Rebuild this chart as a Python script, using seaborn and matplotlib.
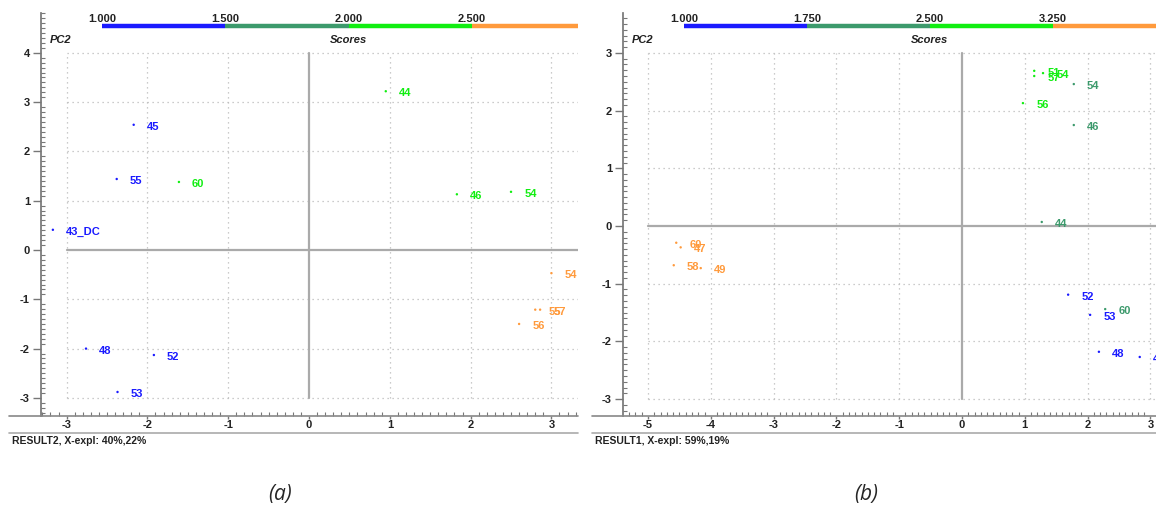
import matplotlib
matplotlib.use("Agg")
import matplotlib.pyplot as plt
from matplotlib.lines import Line2D
from matplotlib.ticker import MultipleLocator
import numpy as np
import pandas as pd
import seaborn as sns

# colour groups (Scores legend bar)
group_colors = {"g1": "#1a1aff", "g2": "#3c9a6c", "g3": "#11ee11", "g4": "#ff9a3c"}

# panel (a) : RESULT2
a_labels = ["45", "55", "43_DC", "48", "52", "53", "60", "44", "46", "54", "54", "55", "57", "56"]
a_x = [-2.17, -2.38, -3.17, -2.76, -1.92, -2.37, -1.61, 0.95, 1.83, 2.50, 3.00, 2.80, 2.86, 2.60]
a_y = [2.54, 1.44, 0.41, -2.00, -2.13, -2.88, 1.38, 3.22, 1.13, 1.18, -0.47, -1.21, -1.21, -1.50]
a_group = ["g1", "g1", "g1", "g1", "g1", "g1", "g3", "g3", "g3", "g3", "g4", "g4", "g4", "g4"]
a_bar = [1.000, 1.500, 2.000, 2.500]

# panel (b) : RESULT1
b_labels = ["60", "47", "58", "49", "51", "57", "54", "56", "54", "46", "44", "60", "52", "53", "48", "45"]
b_x = [-4.55, -4.48, -4.59, -4.16, 1.15, 1.15, 1.29, 0.97, 1.78, 1.78, 1.27, 2.28, 1.69, 2.04, 2.18, 2.83]
b_y = [-0.29, -0.37, -0.68, -0.73, 2.69, 2.60, 2.65, 2.13, 2.46, 1.75, 0.07, -1.44, -1.19, -1.54, -2.18, -2.27]
b_group = ["g4", "g4", "g4", "g4", "g3", "g3", "g3", "g3", "g2", "g2", "g2", "g2", "g1", "g1", "g1", "g1"]
b_bar = [1.000, 1.750, 2.500, 3.250]

sns.set_theme(style="white")
plt.rcParams["font.family"] = ["Liberation Sans", "DejaVu Sans"]
plt.rcParams["axes.unicode_minus"] = False

W, H = 1156, 511
fig = plt.figure(figsize=(W / 100, H / 100), dpi=100)


def px_axes(left, right, top, bottom):
    return fig.add_axes([left / W, (H - bottom) / H, (right - left) / W, (bottom - top) / H])


def draw_panel(ax, df, xlim, ylim, xticks, yticks, bar_vals, bar_end, bar_start_frac,
               result_text, line_left, ax_left, ax_right):
    ax.set_xlim(*xlim)
    ax.set_ylim(*ylim)
    x0, x1 = xticks[0], xlim[1]
    y0, y1 = yticks[0], yticks[-1]
    # dotted grid, only over the tick range
    for t in xticks:
        if t != 0:
            ax.plot([t, t], [y0, y1], color="#bbbbbb", lw=0.9, ls=(0, (1, 3)), zorder=0)
    for t in yticks:
        if t != 0:
            ax.plot([x0, x1], [t, t], color="#bbbbbb", lw=0.9, ls=(0, (1, 3)), zorder=0)
    ax.plot([0, 0], [y0, y1], color="#aaaaaa", lw=1.6, zorder=1)
    ax.plot([x0, x1], [0, 0], color="#aaaaaa", lw=1.6, zorder=1)

    sns.scatterplot(data=df, x="x", y="y", hue="group", palette=group_colors,
                    s=3, linewidth=0, legend=False, ax=ax, zorder=3)
    for _, r in df.iterrows():
        ax.annotate(r["label"], (r["x"], r["y"]), xytext=(9.5, -1.5), textcoords="offset points",
                    color=group_colors[r["group"]], fontsize=8, fontweight="bold",
                    va="center", ha="left", annotation_clip=False, clip_on=True)

    ax.set_xticks(xticks)
    ax.set_yticks(yticks)
    ax.xaxis.set_minor_locator(MultipleLocator(0.1))
    ax.yaxis.set_minor_locator(MultipleLocator(0.1))
    ax.tick_params(axis="y", which="major", direction="out", length=6, width=1, color="#777777",
                   labelsize=8, pad=2, left=True)
    ax.tick_params(axis="x", which="major", direction="out", length=2.5, width=1, color="#777777",
                   labelsize=8, pad=0.5, bottom=True)
    ax.tick_params(which="minor", direction="in", length=3, width=0.8, color="#777777",
                   bottom=True, left=True)
    for lab in ax.get_xticklabels() + ax.get_yticklabels():
        lab.set_fontweight("bold")
        lab.set_color("#222222")
    for s in ["top", "right"]:
        ax.spines[s].set_visible(False)
    ax.spines["bottom"].set_visible(False)
    ax.spines["left"].set_color("#777777")
    ax.set_xlabel("")
    ax.set_ylabel("")

    # x-axis base line and lower separator line (span wider than the axes)
    yb = (H - 416) / H
    fig.add_artist(Line2D([line_left / W, ax_right / W], [yb, yb], color="#888888", lw=1.2))
    ys = (H - 433) / H
    fig.add_artist(Line2D([line_left / W, ax_right / W], [ys, ys], color="#aaaaaa", lw=1.2))
    fig.text((line_left + 3) / W, (H - 441) / H, result_text, fontsize=7.5, fontweight="bold",
             color="#222222", va="center", ha="left")

    # Scores colour bar
    span = 1.0 - bar_start_frac
    edges = bar_vals + [bar_end]
    cols = list(group_colors.values())
    for i in range(len(bar_vals)):
        f0 = bar_start_frac + (edges[i] - bar_vals[0]) / (bar_end - bar_vals[0]) * span
        f1 = bar_start_frac + (edges[i + 1] - bar_vals[0]) / (bar_end - bar_vals[0]) * span
        ax.plot([f0, f1], [0.968, 0.968], color=cols[i], lw=3.2, transform=ax.transAxes,
                solid_capstyle="butt", clip_on=False)
        ax.text(f0, 0.985, f"{bar_vals[i]:.3f}", transform=ax.transAxes, fontsize=8,
                fontweight="bold", ha="center", va="center", color="#222222")
    f2 = bar_start_frac + (bar_vals[2] - bar_vals[0]) / (bar_end - bar_vals[0]) * span
    ax.text(f2, 0.933, "Scores", transform=ax.transAxes, fontsize=8, fontweight="bold",
            style="italic", ha="center", va="center", color="#222222")
    ax.text(0.017, 0.933, "PC2", transform=ax.transAxes, fontsize=8, fontweight="bold",
            style="italic", ha="left", va="center", color="#222222")


df_a = pd.DataFrame({"label": a_labels, "x": a_x, "y": a_y, "group": a_group})
df_b = pd.DataFrame({"label": b_labels, "x": b_x, "y": b_y, "group": b_group})

ax_a = px_axes(41, 578, 13, 416)
draw_panel(ax_a, df_a, (-3.317, 3.329), (-3.367, 4.807), list(range(-3, 4)), list(range(-3, 5)),
           a_bar, 2.93, (102 - 41) / 537, "RESULT2, X-expl: 40%,22%", 9, 41, 578)

ax_b = px_axes(623, 1156, 13, 416)
draw_panel(ax_b, df_b, (-5.398, 3.089), (-3.293, 3.692), list(range(-5, 4)), list(range(-3, 4)),
           b_bar, 3.88, (684 - 623) / 533, "RESULT1, X-expl: 59%,19%", 592, 623, 1156)

fig.text(280 / W, (H - 494) / H, "(a)", fontsize=15, style="italic", ha="center", va="center",
         family=["Open Sans", "DejaVu Sans"])
fig.text(866 / W, (H - 494) / H, "(b)", fontsize=15, style="italic", ha="center", va="center",
         family=["Open Sans", "DejaVu Sans"])

fig.savefig("out.png", dpi=100, facecolor="white")
